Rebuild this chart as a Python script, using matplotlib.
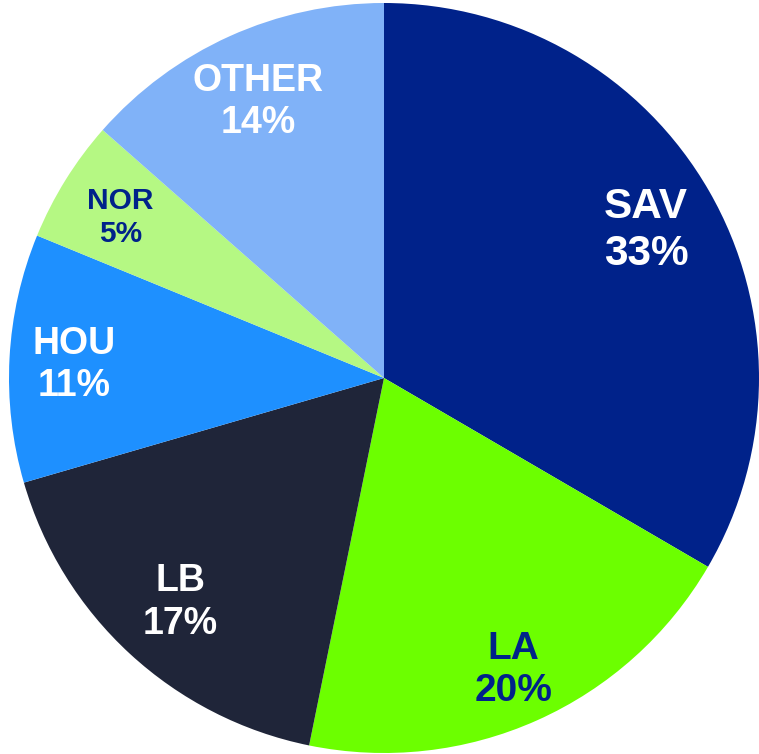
import matplotlib
matplotlib.use("Agg")
import matplotlib.pyplot as plt
import numpy as np

categories = ["SAV", "LA", "LB", "HOU", "NOR", "OTHER"]
values = [33.4, 19.8, 17.3, 10.7, 5.3, 13.5]
pct_labels = ["33%", "20%", "17%", "11%", "5%", "14%"]
colors = ["#00228A", "#6CFF00", "#1F2539", "#1E90FF", "#B5F883", "#80B2F8"]
text_colors = ["white", "#00228A", "white", "white", "#00228A", "white"]
font_sizes = [30.5, 28, 27, 27, 21.5, 27]
label_dist = [0.806, 0.844, 0.802, 0.827, 0.827, 0.818]

fig = plt.figure(figsize=(7.59, 7.54), dpi=100)
ax = fig.add_axes([0, 0, 1, 1])
wedges, _ = ax.pie(values, colors=colors, startangle=90, counterclock=False,
                   wedgeprops=dict(linewidth=0))
for w, c, p, tc, fs, d in zip(wedges, categories, pct_labels, text_colors, font_sizes, label_dist):
    ang = np.deg2rad((w.theta1 + w.theta2) / 2)
    ax.text(d * np.cos(ang), d * np.sin(ang) - 0.009, f"{c}\n{p}", color=tc, fontsize=fs,
            fontfamily="Liberation Sans", fontweight="bold",
            ha="center", va="center", multialignment="center", linespacing=1.22)

ax.set_xlim(-384/375, (759-384)/375)
ax.set_ylim(-(754-378)/375, 378/375)
ax.set_aspect("equal")
ax.axis("off")
fig.savefig("out.png", dpi=100)
